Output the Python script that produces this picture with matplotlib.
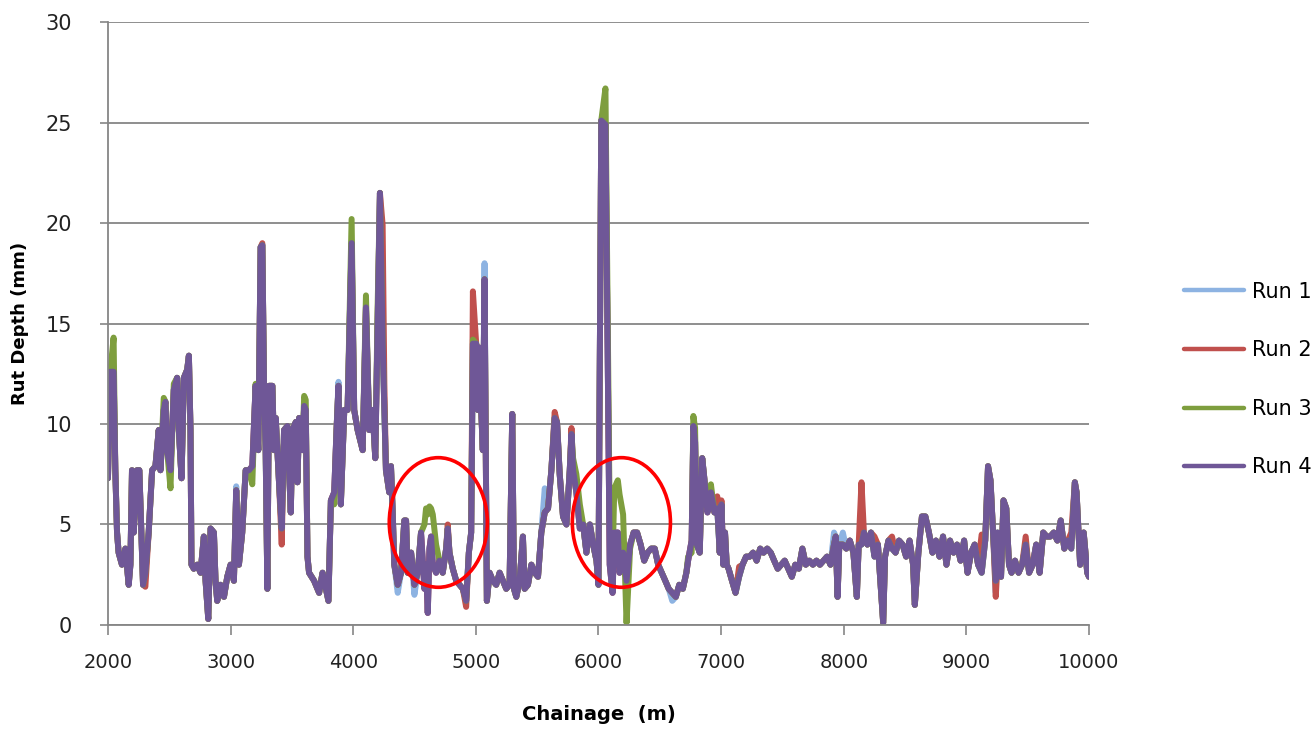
import matplotlib
matplotlib.use("Agg")
import matplotlib.pyplot as plt
from matplotlib.patches import Ellipse

# ---------------------------------------------------------------
# chainage (m) and rut depth (mm) for the four survey runs
# ---------------------------------------------------------------
chainage = [
    2000, 2019, 2046, 2060, 2074, 2087, 2114, 2142, 2169, 2183,
    2196, 2210, 2237, 2256, 2272, 2286, 2305, 2332, 2360, 2387,
    2414, 2428, 2455, 2469, 2482, 2510, 2537, 2564, 2578, 2600,
    2619, 2646, 2660, 2673, 2681,
    2700, 2728, 2755, 2782, 2796, 2818, 2837, 2864, 2877, 2891,
    2918, 2946, 2973, 3000, 3027, 3046, 3068, 3095, 3123, 3150,
    3177, 3204, 3226, 3245, 3259, 3273, 3286, 3300, 3313, 3341,
    3354, 3368, 3395, 3417, 3436, 3463, 3491, 3504, 3532, 3545,
    3559, 3586, 3600, 3613, 3627,
    3640, 3681, 3722, 3750, 3777, 3798, 3818, 3845, 3864, 3880,
    3899, 3927, 3954, 3987, 4008, 4036, 4077, 4104, 4131, 4158,
    4180, 4199, 4218, 4240, 4254, 4267, 4294, 4308, 4322, 4335,
    4363, 4390, 4417, 4431, 4444, 4472, 4499, 4526, 4553, 4581,
    4594, 4608, 4622, 4635, 4649, 4676, 4703, 4730, 4758, 4771,
    4785, 4812, 4840, 4867, 4894, 4921, 4943, 4962, 4976, 5003,
    5017, 5030, 5044, 5057, 5071, 5090,
    5112, 5139, 5166, 5194, 5221, 5248, 5275, 5297, 5311, 5330,
    5357, 5384, 5398, 5425, 5453, 5480, 5507, 5534, 5562, 5589,
    5616, 5643, 5662, 5684, 5711, 5739, 5766, 5780, 5793, 5820,
    5848, 5875, 5902, 5930, 5957, 5984,
    6000, 6023, 6057, 6092, 6115, 6129, 6158, 6172, 6201, 6229,
    6258, 6287, 6315, 6344, 6373, 6401, 6430, 6459, 6487, 6516,
    6545, 6573, 6602, 6631, 6659, 6688, 6717, 6731, 6760, 6774,
    6788, 6803, 6826, 6846, 6860, 6874, 6889, 6917, 6946, 6969,
    6989,
    7003, 7018, 7032, 7046, 7061, 7089, 7118, 7147, 7175, 7204,
    7233, 7261, 7290, 7319, 7347, 7376, 7405, 7433, 7462, 7491,
    7519, 7548, 7577, 7605, 7634, 7663, 7691, 7720, 7749, 7778,
    7806, 7835, 7864, 7892, 7921, 7935, 7950, 7964, 7993,
    8021, 8050, 8079, 8107, 8122, 8145, 8165, 8193, 8222, 8251,
    8279, 8322, 8337, 8365, 8394, 8423, 8451, 8480, 8509, 8537,
    8566, 8580, 8609, 8638, 8666, 8695, 8724, 8752, 8781, 8810,
    8838, 8867, 8896, 8924, 8953, 8982,
    9010, 9039, 9068, 9096, 9125, 9154, 9177, 9197, 9218, 9240,
    9254, 9283, 9303, 9326, 9348, 9369, 9397, 9426, 9455, 9484,
    9512, 9541, 9570, 9598, 9627, 9656, 9684, 9713, 9742, 9770,
    9799, 9828, 9856, 9885, 9899, 9928, 9957, 9986, 10000,
]

run4 = [
    7.3, 12.6, 12.6, 7.7, 4.6, 3.6, 3.0, 3.8, 2.0, 3.0,
    7.7, 4.6, 7.7, 7.7, 4.6, 2.0, 2.6, 4.6, 7.7, 7.9,
    9.7, 7.7, 10.7, 11.1, 8.7, 7.7, 11.7, 12.3, 9.7, 7.3,
    12.3, 12.7, 13.4, 9.7, 3.0,
    2.8, 3.0, 2.6, 4.4, 2.2, 0.3, 4.8, 4.6, 2.2, 1.2,
    2.0, 1.4, 2.4, 3.0, 2.2, 6.7, 3.0, 4.6, 7.7, 7.7,
    7.9, 11.9, 8.7, 18.8, 18.9, 11.7, 8.7, 1.8, 11.9, 11.9,
    8.7, 10.3, 7.1, 4.8, 9.7, 9.9, 5.6, 9.7, 10.1, 7.1,
    10.3, 8.7, 10.9, 10.7, 3.4,
    2.6, 2.2, 1.6, 2.6, 1.8, 1.2, 6.2, 6.6, 9.7, 11.9,
    6.0, 10.7, 10.7, 19.0, 10.7, 9.7, 8.7, 15.8, 9.7, 10.7,
    8.3, 14.8, 21.5, 14.0, 10.7, 7.7, 6.6, 7.9, 5.6, 3.0,
    2.0, 2.6, 5.2, 5.2, 2.6, 3.6, 2.0, 2.6, 4.6, 1.8,
    3.0, 0.6, 3.8, 4.4, 3.0, 2.6, 3.2, 2.6, 3.8, 4.8,
    3.6, 2.8, 2.2, 2.0, 1.8, 1.2, 3.6, 4.6, 14.0, 14.0,
    10.7, 13.8, 10.7, 8.7, 17.2, 1.2,
    2.6, 2.2, 2.0, 2.6, 2.2, 1.8, 2.0, 10.5, 1.8, 1.4,
    2.2, 4.4, 1.8, 2.0, 3.0, 2.6, 2.4, 4.6, 5.6, 5.8,
    7.7, 10.3, 10.1, 7.5, 5.4, 5.0, 7.7, 9.5, 7.7, 6.6,
    4.8, 5.0, 3.6, 5.0, 4.0, 3.2,
    2.0, 25.1, 24.9, 3.0, 1.6, 4.6, 4.6, 2.6, 3.6, 2.2,
    4.0, 4.6, 4.6, 4.0, 3.2, 3.6, 3.8, 3.8, 3.0, 2.6,
    2.2, 1.8, 1.6, 1.4, 2.0, 1.8, 2.6, 3.2, 4.2, 9.9,
    9.1, 4.0, 3.6, 8.3, 7.5, 6.6, 5.6, 6.6, 5.6, 5.8,
    3.6,
    6.0, 3.0, 4.6, 3.0, 2.8, 2.2, 1.6, 2.4, 3.0, 3.4,
    3.4, 3.6, 3.2, 3.8, 3.6, 3.8, 3.6, 3.2, 2.8, 3.0,
    3.2, 2.8, 2.4, 3.0, 2.8, 3.8, 3.0, 3.2, 3.0, 3.2,
    3.0, 3.2, 3.4, 3.0, 4.0, 4.4, 1.4, 4.0, 4.0,
    3.8, 4.2, 3.6, 1.4, 4.0, 4.0, 4.6, 4.0, 4.6, 3.4,
    4.0, 0.1, 3.4, 4.2, 3.8, 3.6, 4.2, 4.0, 3.4, 4.2,
    3.0, 1.0, 3.6, 5.4, 5.4, 4.6, 3.6, 4.2, 3.4, 4.4,
    3.0, 4.2, 3.6, 4.0, 3.2, 4.2,
    2.6, 3.6, 4.0, 3.0, 2.6, 4.2, 7.9, 7.2, 4.6, 2.2,
    4.6, 2.4, 6.2, 5.8, 3.0, 2.6, 3.2, 2.6, 3.0, 4.0,
    2.6, 3.0, 4.0, 2.6, 4.6, 4.4, 4.4, 4.6, 4.2, 5.2,
    3.8, 4.2, 3.8, 7.1, 6.6, 3.0, 4.6, 2.6, 2.4,
]

run3 = [
    7.3, 12.6, 14.3, 7.7, 4.6, 3.6, 3.0, 3.8, 2.0, 3.0,
    7.7, 4.6, 7.7, 7.7, 4.6, 2.0, 2.6, 4.6, 7.7, 7.9,
    9.7, 7.7, 11.3, 11.1, 8.7, 6.8, 12.0, 12.3, 9.7, 7.3,
    12.3, 12.7, 13.4, 9.7, 3.0,
    2.8, 3.0, 2.6, 4.4, 2.2, 0.3, 4.8, 4.6, 2.2, 1.2,
    2.0, 1.4, 2.4, 3.0, 2.2, 6.7, 3.0, 4.6, 7.7, 7.7,
    7.0, 12.0, 8.7, 18.8, 18.9, 11.7, 8.7, 1.8, 11.9, 11.9,
    8.7, 10.3, 7.1, 4.8, 9.7, 9.9, 5.6, 9.7, 10.1, 7.1,
    10.3, 8.7, 11.4, 11.2, 3.4,
    2.6, 2.2, 1.6, 2.6, 1.8, 1.2, 6.2, 6.0, 9.7, 11.9,
    6.0, 10.7, 10.7, 20.2, 10.7, 9.7, 8.7, 16.4, 9.7, 10.7,
    8.3, 15.8, 21.5, 14.0, 10.7, 7.7, 6.6, 7.9, 5.6, 3.0,
    2.0, 2.6, 5.2, 5.2, 2.6, 3.6, 2.0, 2.6, 4.6, 5.0,
    5.8, 5.5, 5.9, 5.8, 5.5, 4.0, 3.2, 2.6, 3.8, 4.8,
    3.6, 2.8, 2.2, 2.0, 1.8, 1.2, 3.6, 4.6, 14.2, 14.0,
    10.7, 13.8, 10.7, 8.7, 17.2, 1.2,
    2.6, 2.2, 2.0, 2.6, 2.2, 1.8, 2.0, 10.5, 1.8, 1.4,
    2.2, 4.4, 1.8, 2.0, 3.0, 2.6, 2.4, 4.6, 5.6, 5.8,
    7.7, 10.3, 10.1, 7.5, 5.4, 5.0, 7.7, 9.5, 8.3, 7.5,
    6.0, 5.0, 3.6, 5.0, 4.0, 3.2,
    2.0, 25.1, 26.7, 5.0, 3.0, 6.8, 7.2, 6.5, 5.5, 0.1,
    3.8, 4.6, 4.6, 4.0, 3.2, 3.6, 3.8, 3.8, 3.0, 2.6,
    2.2, 1.8, 1.6, 1.4, 2.0, 1.8, 2.6, 3.4, 3.6, 10.4,
    9.8, 4.0, 3.6, 8.3, 7.5, 6.6, 6.2, 7.0, 5.6, 5.8,
    3.6,
    6.0, 3.0, 4.6, 3.0, 2.8, 2.2, 1.6, 2.4, 3.0, 3.4,
    3.4, 3.6, 3.2, 3.8, 3.6, 3.8, 3.6, 3.2, 2.8, 3.0,
    3.2, 2.8, 2.4, 3.0, 2.8, 3.8, 3.0, 3.2, 3.0, 3.2,
    3.0, 3.2, 3.4, 3.0, 4.0, 4.4, 1.4, 4.0, 4.0,
    3.8, 4.2, 3.6, 1.4, 4.0, 4.0, 4.6, 4.0, 4.6, 3.4,
    4.0, 0.1, 3.4, 4.2, 3.8, 3.6, 4.2, 4.0, 3.4, 4.2,
    3.0, 1.0, 3.6, 5.4, 5.4, 4.6, 3.6, 4.2, 3.4, 4.4,
    3.0, 4.2, 3.6, 4.0, 3.2, 4.2,
    2.6, 3.6, 4.0, 3.0, 2.6, 4.2, 7.9, 7.2, 4.6, 2.2,
    4.6, 2.4, 6.2, 5.8, 3.0, 2.6, 3.2, 2.6, 3.0, 4.0,
    2.6, 3.0, 4.0, 2.6, 4.6, 4.4, 4.4, 4.6, 4.2, 5.2,
    3.8, 4.2, 3.8, 7.1, 6.6, 3.0, 4.6, 2.6, 2.4,
]

run2 = [
    7.3, 12.6, 12.6, 7.7, 4.6, 3.6, 3.0, 3.8, 2.0, 3.0,
    7.7, 4.6, 7.7, 7.7, 4.6, 2.0, 1.9, 4.6, 7.7, 7.9,
    9.7, 7.7, 10.7, 11.1, 8.7, 7.7, 11.7, 12.3, 9.7, 7.3,
    12.3, 12.7, 13.4, 9.7, 3.0,
    2.8, 3.0, 2.6, 4.4, 2.2, 0.3, 4.8, 4.6, 2.2, 1.2,
    2.0, 1.4, 2.4, 3.0, 2.2, 6.7, 3.0, 4.6, 7.7, 7.7,
    7.9, 11.9, 8.7, 18.8, 19.0, 11.7, 9.0, 1.8, 11.9, 11.9,
    8.7, 10.3, 7.1, 4.0, 9.7, 9.9, 5.6, 9.7, 10.1, 7.1,
    10.3, 8.7, 10.9, 10.7, 3.4,
    2.6, 2.2, 1.6, 2.6, 1.8, 1.2, 6.2, 6.6, 9.7, 11.9,
    6.0, 10.7, 10.7, 19.0, 10.7, 9.7, 8.7, 15.8, 9.7, 10.7,
    8.3, 14.8, 21.5, 19.9, 12.0, 7.7, 6.6, 7.9, 5.6, 3.0,
    2.0, 2.6, 5.2, 5.2, 2.6, 3.6, 2.0, 2.6, 4.6, 1.8,
    3.0, 0.6, 3.8, 4.4, 3.0, 2.6, 3.2, 2.6, 3.8, 5.0,
    3.6, 2.8, 2.2, 2.0, 1.8, 0.9, 3.6, 4.6, 16.6, 14.0,
    10.7, 13.8, 10.7, 8.7, 17.2, 1.2,
    2.6, 2.2, 2.0, 2.6, 2.2, 1.8, 2.0, 10.5, 1.8, 1.4,
    2.2, 4.4, 1.8, 2.0, 3.0, 2.6, 2.4, 4.6, 5.6, 5.8,
    7.7, 10.6, 10.1, 7.5, 5.4, 5.0, 7.7, 9.8, 7.7, 6.6,
    4.8, 5.0, 3.6, 5.0, 4.0, 3.2,
    2.0, 25.1, 24.9, 3.0, 1.6, 4.6, 4.6, 2.6, 3.6, 2.2,
    4.0, 4.6, 4.6, 4.0, 3.2, 3.6, 3.8, 3.8, 3.0, 2.6,
    2.2, 1.8, 1.6, 1.4, 2.0, 1.8, 2.6, 3.2, 4.2, 9.9,
    9.1, 4.0, 3.6, 8.3, 7.5, 6.6, 5.6, 6.6, 5.6, 6.4,
    3.6,
    6.2, 3.0, 4.6, 3.0, 2.8, 2.2, 1.6, 2.9, 3.0, 3.4,
    3.4, 3.6, 3.2, 3.8, 3.6, 3.8, 3.6, 3.2, 2.8, 3.0,
    3.2, 2.8, 2.4, 3.0, 2.8, 3.8, 3.0, 3.2, 3.0, 3.2,
    3.0, 3.2, 3.4, 3.0, 4.0, 4.4, 1.4, 4.0, 4.0,
    3.8, 4.2, 3.6, 1.4, 4.0, 7.1, 4.6, 4.0, 4.6, 4.4,
    4.0, 0.1, 3.4, 4.2, 4.4, 3.6, 4.2, 4.0, 3.4, 4.2,
    3.0, 1.0, 3.6, 5.4, 5.4, 4.6, 3.6, 4.2, 3.4, 4.4,
    3.0, 4.2, 3.6, 4.0, 3.2, 4.2,
    2.6, 3.6, 4.0, 3.0, 4.5, 4.2, 7.9, 7.2, 4.6, 1.4,
    3.0, 2.4, 6.2, 5.8, 3.0, 2.6, 3.2, 2.6, 3.0, 4.4,
    2.6, 3.0, 4.0, 2.6, 4.6, 4.4, 4.4, 4.6, 4.2, 5.2,
    3.8, 4.2, 4.6, 7.1, 6.6, 3.0, 4.6, 2.6, 2.4,
]

run1 = [
    7.3, 12.6, 12.6, 7.7, 4.6, 3.6, 3.0, 3.8, 2.0, 3.0,
    7.7, 4.6, 7.7, 7.7, 4.6, 2.0, 2.6, 4.6, 7.7, 7.9,
    9.7, 7.7, 10.7, 11.1, 8.7, 7.7, 11.7, 12.3, 9.7, 7.3,
    12.3, 12.7, 13.4, 9.7, 3.0,
    2.8, 3.0, 2.6, 4.4, 2.2, 0.3, 4.8, 4.6, 2.2, 1.2,
    2.0, 1.4, 2.4, 3.0, 2.2, 6.9, 3.0, 4.6, 7.7, 7.7,
    7.9, 11.9, 8.7, 18.8, 18.9, 11.7, 8.7, 1.8, 11.9, 11.9,
    8.7, 10.3, 7.1, 4.8, 9.7, 9.9, 5.6, 9.7, 10.1, 7.1,
    10.3, 8.7, 10.9, 10.7, 3.4,
    2.6, 2.2, 1.6, 2.6, 1.8, 1.2, 6.2, 6.6, 9.7, 12.1,
    6.0, 10.7, 10.7, 19.1, 10.7, 9.7, 8.7, 15.8, 9.7, 10.7,
    8.3, 14.8, 21.5, 14.0, 10.7, 7.7, 6.6, 7.9, 5.6, 3.0,
    1.6, 2.6, 5.2, 5.2, 2.6, 3.6, 1.5, 2.6, 4.6, 1.8,
    3.0, 0.6, 3.8, 4.4, 3.0, 2.6, 3.2, 2.6, 3.8, 4.8,
    3.6, 2.8, 2.2, 2.0, 1.8, 1.2, 3.6, 4.6, 14.0, 14.0,
    10.7, 13.8, 10.7, 8.7, 18.0, 1.2,
    2.6, 2.2, 2.0, 2.6, 2.2, 1.8, 2.0, 10.5, 1.8, 1.4,
    2.2, 4.4, 1.8, 2.0, 3.0, 2.6, 2.4, 4.6, 6.8, 5.8,
    7.7, 10.3, 10.1, 7.5, 5.4, 5.0, 7.7, 9.5, 7.7, 6.6,
    4.8, 5.0, 3.6, 5.0, 4.0, 3.2,
    2.0, 25.1, 24.9, 3.0, 1.6, 4.0, 4.6, 2.6, 3.6, 2.2,
    4.0, 4.6, 4.6, 4.0, 3.2, 3.6, 3.8, 3.8, 3.0, 2.6,
    2.2, 1.8, 1.2, 1.4, 2.0, 1.8, 2.6, 3.2, 4.2, 9.9,
    9.1, 4.0, 3.6, 8.3, 7.5, 6.6, 5.6, 6.6, 5.6, 5.8,
    3.6,
    6.0, 3.0, 4.6, 3.0, 2.8, 2.2, 1.6, 2.4, 3.0, 3.4,
    3.4, 3.6, 3.2, 3.8, 3.6, 3.8, 3.6, 3.2, 2.8, 3.0,
    3.2, 2.8, 2.4, 3.0, 2.8, 3.8, 3.0, 3.2, 3.0, 3.2,
    3.0, 3.2, 3.4, 3.0, 4.6, 4.4, 1.4, 4.0, 4.6,
    3.8, 4.2, 3.6, 1.4, 4.0, 4.0, 4.6, 4.0, 4.6, 3.4,
    4.0, 0.1, 3.4, 4.2, 3.8, 3.6, 4.2, 4.0, 3.4, 4.2,
    3.0, 1.0, 3.6, 5.4, 5.4, 4.6, 3.6, 4.2, 3.4, 4.4,
    3.0, 4.2, 3.6, 4.0, 3.2, 4.2,
    2.6, 3.6, 4.0, 3.0, 2.6, 4.2, 7.9, 7.2, 4.6, 1.6,
    4.6, 2.4, 6.2, 5.8, 3.0, 2.6, 3.2, 2.6, 3.0, 4.0,
    2.6, 3.0, 4.0, 2.6, 4.6, 4.4, 4.4, 4.6, 4.2, 5.2,
    3.8, 4.2, 3.8, 7.1, 6.6, 3.0, 4.6, 2.6, 2.4,
]

run_labels = ["Run 1", "Run 2", "Run 3", "Run 4"]
run_colors = ["#8DB3E2", "#C0504D", "#7E9E3E", "#6F5797"]

# areas highlighted with red rings (chainage, depth)
ring_centres = [(4694, 5.1), (6187, 5.1)]
ring_w = 800
ring_h = 6.45

####################################################
fig = plt.figure(figsize=(13.15, 7.29), dpi=100)
ax = fig.add_axes([0.0821, 0.1427, 0.746, 0.827])

grey = "#868686"
for vals, lab, col in zip([run1, run2, run3, run4], run_labels, run_colors):
    ax.plot(chainage, vals, color=col, lw=4.3, label=lab,
            solid_joinstyle="round", solid_capstyle="round")

for cx, cy in ring_centres:
    ax.add_patch(Ellipse((cx, cy), ring_w, ring_h, fill=False,
                         edgecolor="#FF0000", lw=2.6, zorder=5))

ax.set_xlim(2000, 10000)
ax.set_ylim(0, 30)
ax.set_xticks(range(2000, 10001, 1000))
ax.set_yticks(range(0, 31, 5))
ax.yaxis.grid(True, color=grey, lw=1.3)
ax.set_axisbelow(True)

for s in ["top", "right"]:
    ax.spines[s].set_visible(False)
for s in ["left", "bottom"]:
    ax.spines[s].set_color(grey)
    ax.spines[s].set_linewidth(1.3)

ax.tick_params(axis="x", direction="out", length=7, width=1.2, color=grey,
               pad=13, labelsize=14, labelcolor="#222222")
ax.tick_params(axis="y", direction="out", length=6, width=1.2, color=grey,
               pad=20, labelsize=15, labelcolor="#222222")
for t in ax.get_xticklabels():
    t.set_family(["Liberation Sans Narrow", "DejaVu Sans"])
for t in ax.get_yticklabels():
    t.set_family("DejaVu Sans")

ax.set_xlabel("Chainage  (m)", fontsize=14, fontweight="bold", labelpad=24,
              family=["Liberation Sans Narrow", "DejaVu Sans"])
ax.set_ylabel("Rut Depth (mm)", fontsize=13, fontweight="bold", labelpad=12,
              family="DejaVu Sans")

leg = fig.legend(loc="upper left", bbox_to_anchor=(1165 / 1315, 1 - 263 / 729),
                 frameon=False, fontsize=15, handlelength=2.9,
                 handletextpad=0.4, labelspacing=1.85)
for h in leg.get_lines():
    h.set_linewidth(3.2)

fig.savefig("out.png", dpi=100)
